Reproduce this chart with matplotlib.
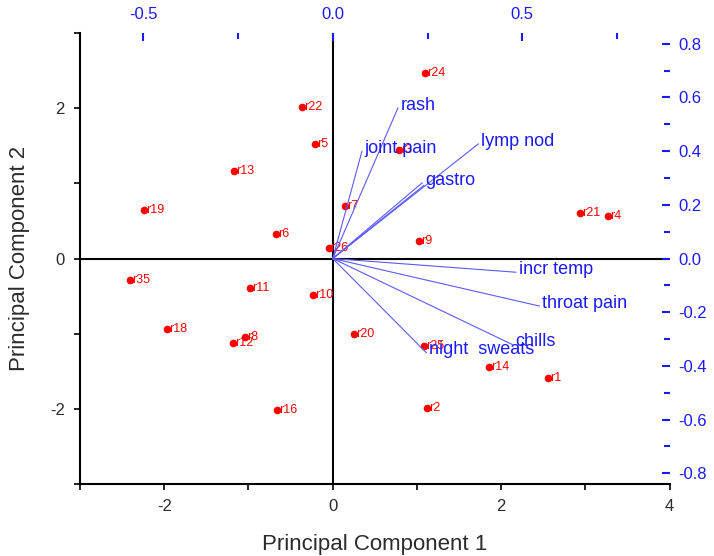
import matplotlib
matplotlib.use("Agg")
import matplotlib.pyplot as plt
from matplotlib.ticker import MultipleLocator, FormatStrFormatter

plt.rcParams["font.family"] = ["Liberation Sans", "DejaVu Sans"]
plt.rcParams["axes.unicode_minus"] = False

# ---- scores (Principal Component 1 / 2) ----
obs_labels = ["r24", "r22", "r5", "r3", "r13", "r19", "r7", "r6", "r26", "r9",
              "r21", "r4", "r35", "r11", "r10", "r18", "r8", "r12", "r16",
              "r20", "r25", "r14", "r1", "r2"]
pc1 = [1.09, -0.37, -0.21, 0.79, -1.17, -2.24, 0.15, -0.67, -0.05, 1.02,
       2.93, 3.27, -2.41, -0.98, -0.23, -1.97, -1.04, -1.18, -0.66,
       0.25, 1.08, 1.86, 2.55, 1.12]
pc2 = [2.47, 2.01, 1.53, 1.44, 1.17, 0.65, 0.70, 0.32, 0.14, 0.23,
       0.61, 0.57, -0.29, -0.39, -0.48, -0.94, -1.05, -1.12, -2.02,
       -1.00, -1.16, -1.44, -1.59, -1.99]

# ---- loadings (top / right axes) ----
var_labels = ["rash", "joint pain", "lymp nod", "gastro", "", "incr temp",
              "throat pain", "chills", "night  sweats"]
load1 = [0.172, 0.077, 0.384, 0.236, 0.240, 0.483, 0.545, 0.473, 0.247]
load2 = [0.561, 0.399, 0.427, 0.282, 0.272, -0.051, -0.177, -0.320, -0.351]

fig = plt.figure(figsize=(7.14, 5.56), dpi=100)
pos = [0.112, 0.1295, 0.826, 0.811]
ax = fig.add_axes(pos)
ax2 = fig.add_axes(pos, frameon=False)

ink = "#2b2b2b"
blue = "#1a1aff"

ax.axhline(0, color="black", lw=1.5, zorder=1)
ax.axvline(0, color="black", lw=1.5, zorder=1)
ax.plot(pc1, pc2, "o", color="red", ms=4.5, zorder=3)
for lab, x, y in zip(obs_labels, pc1, pc2):
    ax.annotate(lab, (x, y), xytext=(1.5, 0), textcoords="offset points",
                ha="left", va="center", color="red", fontsize=9, zorder=3)

ax.set_xlim(-3, 4)
ax.set_ylim(-3, 3)
ax.xaxis.set_major_locator(MultipleLocator(2))
ax.xaxis.set_minor_locator(MultipleLocator(1))
ax.yaxis.set_major_locator(MultipleLocator(2))
ax.yaxis.set_minor_locator(MultipleLocator(1))
ax.tick_params(which="both", direction="out", length=4, width=1.2, colors="black",
               labelcolor=ink, labelsize=12, pad=7)
for s in ["left", "bottom"]:
    ax.spines[s].set_linewidth(1.5)
for s in ["top", "right"]:
    ax.spines[s].set_visible(False)
ax.set_xlabel("Principal Component 1", fontsize=16, color=ink, labelpad=14)
ax.set_ylabel("Principal Component 2", fontsize=16, color=ink, labelpad=14)

# loadings on secondary axes
for lab, x, y in zip(var_labels, load1, load2):
    ax2.plot([0, x], [0, y], color="#5a5aff", lw=0.8)
    if lab:
        ax2.annotate(lab, (x, y), xytext=(2, 2), textcoords="offset points",
                     ha="left", va="center", color=blue, fontsize=13)

ax2.set_xlim(-3 / 4.5, 4 / 4.5)
ax2.set_ylim(-0.84, 0.84)
ax2.xaxis.tick_top()
ax2.yaxis.tick_right()
ax2.xaxis.set_major_locator(MultipleLocator(0.5))
ax2.xaxis.set_minor_locator(MultipleLocator(0.25))
ax2.yaxis.set_major_locator(MultipleLocator(0.2))
ax2.yaxis.set_minor_locator(MultipleLocator(0.1))
ax2.xaxis.set_major_formatter(FormatStrFormatter("%.1f"))
ax2.yaxis.set_major_formatter(FormatStrFormatter("%.1f"))
ax2.tick_params(which="major", direction="in", length=6, width=1.5, colors=blue,
                labelsize=12)
ax2.tick_params(axis="x", which="major", pad=8)
ax2.tick_params(axis="y", which="major", pad=6)
ax2.tick_params(which="minor", direction="in", length=4, width=1.5, colors=blue)
ax2.spines["top"].set_visible(True)
ax2.spines["right"].set_visible(True)
for s in ["top", "right"]:
    ax2.spines[s].set_color(blue)
    ax2.spines[s].set_linewidth(2)

fig.savefig("out.png", dpi=100)
